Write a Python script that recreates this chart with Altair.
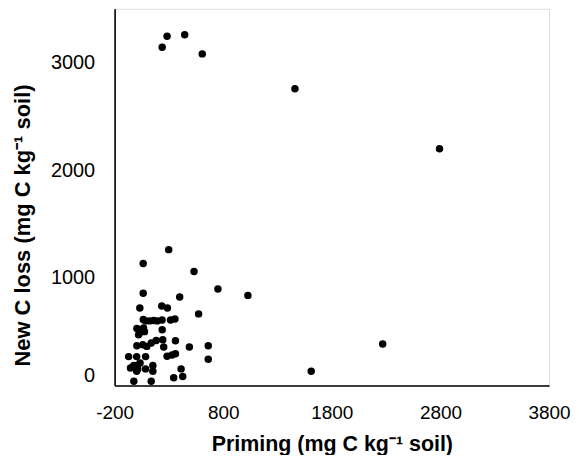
import altair as alt
import pandas as pd

# Priming (mg C kg-1 soil)
priming = [
    238, 283, 445, 607, 1460, 2791,
    298, 63, 531, 751, 1027, 63, 399, 573,
    32, 234, 286,
    64, 85, 122, 160, 193, 237, 315, 355,
    5, 29, 66, 75, 238, 20,
    5, 60, 96, 137, 183, 243, 252, 360, 488, 662, 662,
    283, 329, 360,
    -71, 3, 85,
    -54, -24, 3, 3, 34, 13, 85, 152, 152,
    412, 344, 427, -23, 137,
    2268, 1610,
]
# New C loss (mg C kg-1 soil)
new_c_loss = [
    3142, 3244, 3259, 3081, 2757, 2200,
    1262, 1133, 1059, 896, 837, 856, 822, 665,
    720, 739, 720,
    612, 600, 600, 603, 600, 609, 609, 618,
    529, 487, 533, 500, 517, 470,
    369, 379, 363, 394, 418, 425, 357, 415, 357, 369, 243,
    271, 283, 295,
    268, 268, 268,
    163, 185, 185, 132, 209, 154, 154, 185, 132,
    154, 71, 83, 40, 40,
    385, 132,
]

x_ticks = [-200, 800, 1800, 2800, 3800]
y_ticks = [0, 1000, 2000, 3000]

df = pd.DataFrame({"priming": priming, "loss": new_c_loss})

font = "Liberation Sans"

chart = alt.Chart(df).mark_circle(size=56, color="#000000", opacity=1).encode(
    x=alt.X(
        "priming:Q",
        scale=alt.Scale(domain=[-200, 3800], nice=False, zero=False),
        axis=alt.Axis(
            values=x_ticks,
            labelExpr="'' + datum.value",
            title="Priming (mg C kg\u207b\u00b9 soil)",
            grid=False,
            ticks=False,
            labelFlush=False,
            labelPadding=18,
            labelFontSize=19,
            labelFont=font,
            labelColor="#000000",
            titleFont=font,
            titleFontSize=21.5,
            titleFontWeight="bold",
            titleColor="#000000",
            titleY=48,
            titleBaseline="top",
            domainColor="#000000",
            domainWidth=1.6,
            labelOverlap=False,
        ),
    ),
    y=alt.Y(
        "loss:Q",
        scale=alt.Scale(domain=[0, 3500], nice=False),
        axis=alt.Axis(
            values=y_ticks,
            labelExpr="'' + datum.value",
            title="New C loss (mg C kg\u207b\u00b9 soil)",
            grid=False,
            ticks=False,
            labelFlush=True,
            labelPadding=20,
            labelFontSize=20,
            labelFont=font,
            labelColor="#000000",
            titleFont=font,
            titleFontSize=22,
            titleFontWeight="bold",
            titleColor="#000000",
            titleX=-92,
            titleY=217,
            titleBaseline="middle",
            domainColor="#000000",
            domainWidth=1.6,
            labelOverlap=False,
        ),
    ),
).properties(
    width=436,
    height=378,
    autosize=alt.AutoSizeParams(type="none"),
    padding={"left": 107, "top": 0, "right": 22, "bottom": 69},
).configure_view(
    stroke="#000000",
    strokeWidth=1.4,
).configure(background="white")

chart.save("out.html", embed_options={"renderer": "svg", "actions": False})
